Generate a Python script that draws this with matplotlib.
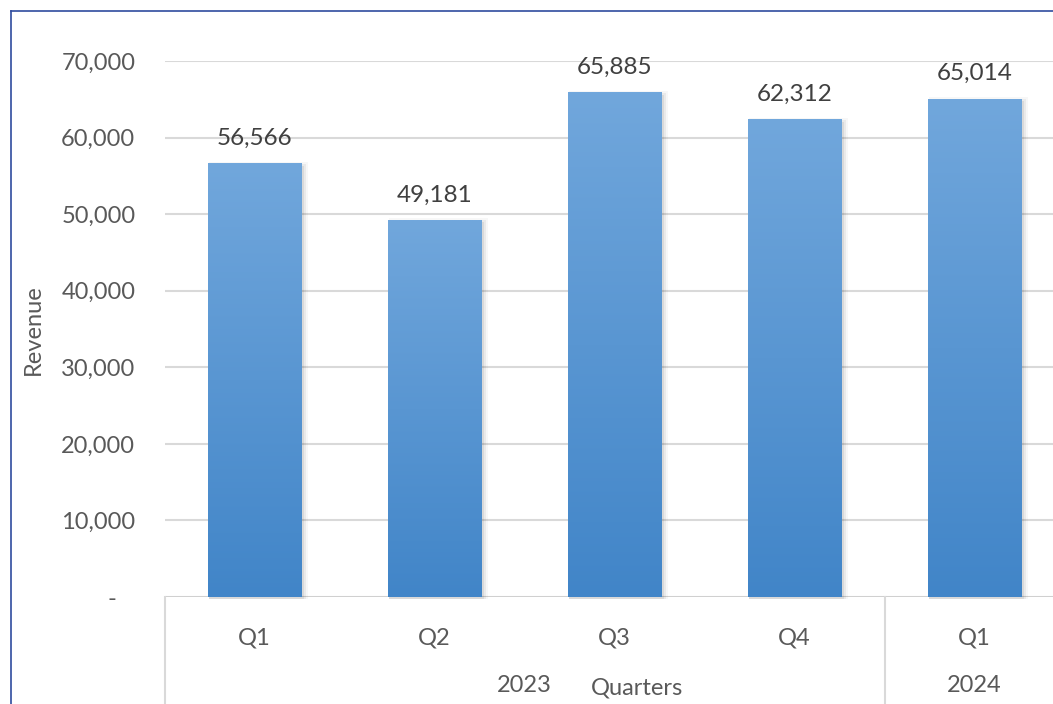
import numpy as np
import matplotlib
matplotlib.use('Agg')
import matplotlib.pyplot as plt
from matplotlib.colors import LinearSegmentedColormap
from matplotlib.patches import Rectangle
from matplotlib.lines import Line2D
from matplotlib.ticker import FuncFormatter


quarters = ['Q1', 'Q2', 'Q3', 'Q4', 'Q1']
years = ['2023', '2024']
year_span = [(0, 4), (4, 5)]    # category index ranges for each year
revenue = [56566, 49181, 65885, 62312, 65014]
yticks = [0, 10000, 20000, 30000, 40000, 50000, 60000, 70000]

plt.rcParams['font.family'] = ['Lato', 'DejaVu Sans']

W, H = 1053, 704
fig = plt.figure(figsize=(W / 100, H / 100), dpi=100)

# plot area in pixels: x from 164.5, 180 px per category; y from 597 (0) to 61 (70,000)
x0, cat_w = 164.5, 180.0
y0, ytop = 597.0, 61.0
ax = fig.add_axes([x0 / W, (H - y0) / H, 5 * cat_w / W, (y0 - ytop) / H])

xs = np.arange(len(revenue))
bar_w = 0.517
top_col = '#71a7dc'
bot_col = '#4185c8'
cmap = LinearSegmentedColormap.from_list('bar', [bot_col, top_col])
grad = np.linspace(0, 1, 256).reshape(-1, 1)

px_x = 1 / cat_w
px_y = 70000 / (y0 - ytop)

for x, v in zip(xs, revenue):
    # soft shadow to the lower right
    for k, a in [(6, 0.03), (4, 0.05), (2, 0.07)]:
        ax.add_patch(Rectangle((x - bar_w / 2 + px_x * 1, -px_y * 2), bar_w + px_x * k,
                               v + px_y * (k - 2), facecolor='#000000', alpha=a,
                               edgecolor='none', zorder=2, clip_on=False))
    ax.imshow(grad, cmap=cmap, origin='lower', aspect='auto',
              extent=(x - bar_w / 2, x + bar_w / 2, 0, v), zorder=3)
    ax.text(x, v + px_y * 15, f'{v:,}', ha='center', va='bottom',
            fontsize=17.5, color='#404040', zorder=4)

ax.set_xlim(-0.5, 4.5)
ax.set_ylim(0, 70000)
ax.set_yticks(yticks)
ax.yaxis.set_major_formatter(FuncFormatter(lambda v, p: '-   ' if v == 0 else f'{v:,.0f}'))
ax.tick_params(axis='y', length=0, pad=21, labelsize=17, labelcolor='#595959')
ax.grid(axis='y', color='#d9d9d9', linewidth=1.5, zorder=0)
ax.set_axisbelow(True)
for s in ax.spines.values():
    s.set_visible(False)

ax.set_xticks(xs)
ax.set_xticklabels(quarters)
ax.tick_params(axis='x', length=0, pad=22, labelsize=17, labelcolor='#595959')

# category axis line and year groups
ax.axhline(0, color='#d0d0d0', linewidth=2, zorder=1)
xt = ax.get_xaxis_transform()
drop = -(H - y0) / (y0 - ytop)
for b in [-0.5, 3.5]:
    ax.plot([b, b], [0, drop], color='#d9d9d9', linewidth=1.5, transform=xt, clip_on=False)
for yr, (a, b) in zip(years, year_span):
    ax.text((a + b) / 2 - 0.5, -89 / (y0 - ytop), yr, transform=xt, ha='center', va='center',
            fontsize=17, color='#595959')

ax.text((637 - x0) / cat_w - 0.5, -91 / (y0 - ytop), 'Quarters', transform=xt,
        ha='center', va='center', fontsize=17, color='#595959')
fig.text(33 / W, 1 - 330 / H, 'Revenue', rotation=90, ha='center', va='center',
         fontsize=17, color='#595959')

# chart border (left and top edges)
fig.add_artist(Line2D([10.5 / W, 10.5 / W], [0, 1 - 11 / H], color='#2f4b9e', linewidth=1.2))
fig.add_artist(Line2D([10.5 / W, 1], [1 - 11 / H, 1 - 11 / H], color='#2f4b9e', linewidth=1.2))

fig.savefig('out.png', dpi=100)
